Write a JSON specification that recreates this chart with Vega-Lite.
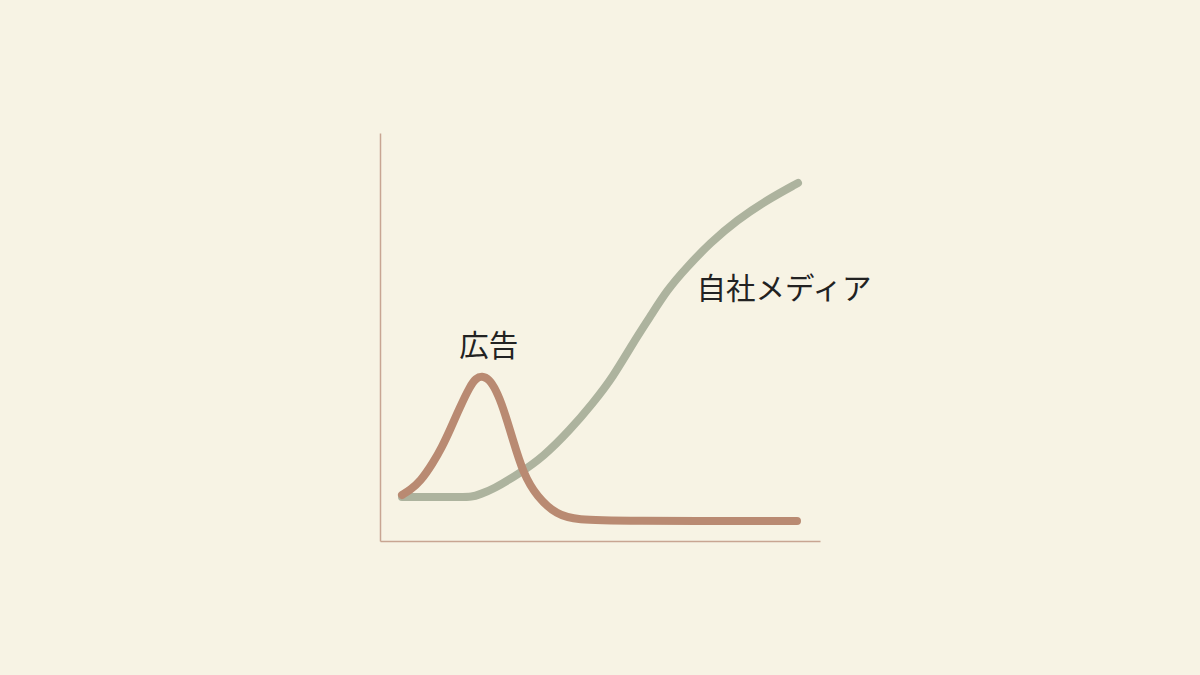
{
  "$schema": "https://vega.github.io/schema/vega-lite/v6.json",
  "width": 440,
  "height": 408,
  "autosize": {"type": "none"},
  "padding": {"left": 380, "top": 133, "right": 380, "bottom": 134},
  "background": "#f7f3e4",
  "config": {"view": {"stroke": null}},
  "datasets": {
    "ad": [
      {"t": 0.55, "v": 1.15}, {"t": 0.75, "v": 1.275}, {"t": 1.0, "v": 1.475},
      {"t": 1.325, "v": 1.95}, {"t": 1.55, "v": 2.35}, {"t": 1.75, "v": 2.775},
      {"t": 2.0, "v": 3.35}, {"t": 2.25, "v": 3.87}, {"t": 2.4, "v": 4.07},
      {"t": 2.55, "v": 4.13}, {"t": 2.725, "v": 4.05}, {"t": 2.9, "v": 3.775},
      {"t": 3.075, "v": 3.35}, {"t": 3.325, "v": 2.525}, {"t": 3.575, "v": 1.7},
      {"t": 3.925, "v": 1.1}, {"t": 4.425, "v": 0.65}, {"t": 4.925, "v": 0.525},
      {"t": 6.0, "v": 0.5}, {"t": 10.425, "v": 0.5}
    ],
    "own": [
      {"t": 0.55, "v": 1.1}, {"t": 1.5, "v": 1.1}, {"t": 2.0, "v": 1.1},
      {"t": 2.3, "v": 1.1}, {"t": 2.5, "v": 1.17}, {"t": 2.825, "v": 1.29},
      {"t": 3.5, "v": 1.7}, {"t": 4.075, "v": 2.1}, {"t": 4.75, "v": 2.775},
      {"t": 5.325, "v": 3.45}, {"t": 5.825, "v": 4.1}, {"t": 6.325, "v": 4.95},
      {"t": 6.75, "v": 5.6}, {"t": 7.175, "v": 6.275}, {"t": 7.675, "v": 6.85},
      {"t": 8.25, "v": 7.45}, {"t": 8.925, "v": 8.025}, {"t": 9.675, "v": 8.525},
      {"t": 10.45, "v": 8.95}
    ],
    "labels": [
      {"t": 2.72, "v": 4.85, "label": "広告"},
      {"t": 10.1, "v": 6.275, "label": "自社メディア"}
    ]
  },
  "encoding": {
    "x": {
      "field": "t", "type": "quantitative",
      "scale": {"domain": [0, 11], "nice": false, "zero": false},
      "axis": {"title": null, "labels": false, "ticks": false, "grid": false, "domainColor": "#c8a592", "domainWidth": 1.5}
    },
    "y": {
      "field": "v", "type": "quantitative",
      "scale": {"domain": [0, 10.2], "nice": false, "zero": false},
      "axis": {"title": null, "labels": false, "ticks": false, "grid": false, "domainColor": "#c8a592", "domainWidth": 1.5}
    }
  },
  "layer": [
    {
      "data": {"name": "own"},
      "mark": {"type": "line", "interpolate": "basis", "stroke": "#adb39e", "strokeWidth": 8, "strokeCap": "round", "strokeJoin": "round"}
    },
    {
      "data": {"name": "ad"},
      "mark": {"type": "line", "interpolate": "basis", "stroke": "#b98a72", "strokeWidth": 8, "strokeCap": "round", "strokeJoin": "round"}
    },
    {
      "data": {"name": "labels"},
      "mark": {"type": "text", "font": "Noto Sans CJK JP", "fontSize": 29.5, "color": "#222222", "align": "center", "baseline": "middle"},
      "encoding": {"text": {"field": "label"}}
    }
  ]
}
